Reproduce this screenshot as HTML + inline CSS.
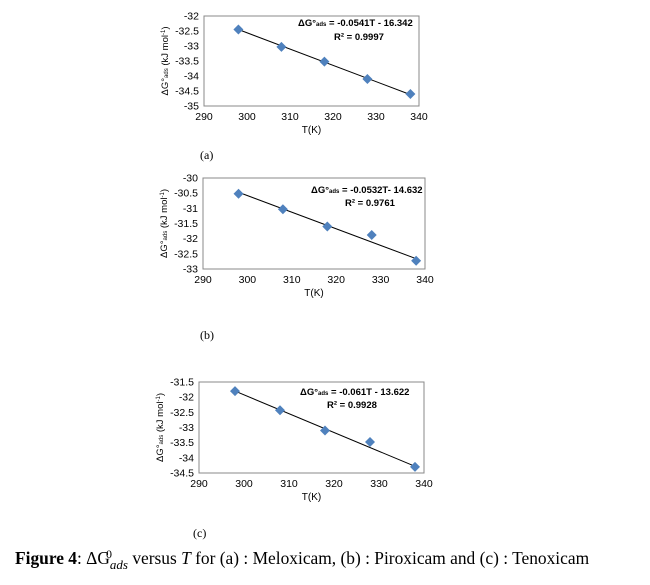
<!DOCTYPE html>
<html><head><meta charset="utf-8"><style>
body{margin:0;background:#fff;width:650px;height:585px;overflow:hidden}
svg{position:absolute;left:0;top:0}
text{font-family:"Liberation Sans",sans-serif;fill:#000}
</style></head><body>
<svg id="s" width="650" height="585" xmlns="http://www.w3.org/2000/svg">
<text x="15" y="564" style="font-family:'Liberation Serif',serif;font-size:17.4px"><tspan font-weight="bold">Figure 4</tspan>: ΔG<tspan font-style="italic" dy="5" font-size="13">ads</tspan><tspan dx="-22" dy="-11" font-size="12">0</tspan><tspan dy="6" dx="16"> versus </tspan><tspan font-style="italic">T</tspan> for (a) : Meloxicam, (b) : Piroxicam and (c) : Tenoxicam</text>
</svg>
<script>
const s=document.getElementById('s');let h='';
function chart(c){
 const {L,R,T,B,y0,y1,pts,l0,l1,eq,r2,lab}=c;
 const X=v=>L+(v-290)/50*(R-L), Y=v=>T+(y0-v)/(y0-y1)*(B-T);
 h+=`<rect x="${L}" y="${T}" width="${R-L}" height="${B-T}" fill="none" stroke="#888" stroke-width="1"/>`;
 for(let v=y0;v>=y1-1e-9;v-=0.5){h+=`<text x="${L-5}" y="${Y(v)+3.5}" font-size="10.5" text-anchor="end">${+v.toFixed(1)}</text>`;}
 for(let v=290;v<=340;v+=10){h+=`<text x="${X(v)}" y="${B+14}" font-size="10.5" text-anchor="middle">${v}</text>`;}
 h+=`<text x="${(L+R)/2}" y="${B+27}" font-size="10" text-anchor="middle">T(K)</text>`;
 h+=`<text transform="translate(${L-36},${(T+B)/2}) rotate(-90)" font-size="9.5" text-anchor="middle">ΔG°<tspan font-size="6">ads</tspan> (kJ mol<tspan font-size="6" dy="-3">-1</tspan><tspan dy="3">)</tspan></text>`;
 h+=`<line x1="${X(298)}" y1="${Y(l0)}" x2="${X(338)}" y2="${Y(l1)}" stroke="#000" stroke-width="1"/>`;
 [298,308,318,328,338].forEach((t,i)=>{const x=X(t),y=Y(pts[i]);h+=`<path d="M${x} ${y-5}L${x+5} ${y}L${x} ${y+5}L${x-5} ${y}Z" fill="#4f81bd"/>`;});
 h+=`<text x="${eq[0]}" y="${eq[1]}" font-size="9.5" font-weight="bold">ΔG°<tspan font-size="6">ads</tspan> = ${eq[2]}</text>`;
 h+=`<text x="${r2[0]}" y="${r2[1]}" font-size="9.5" font-weight="bold">R² = ${r2[2]}</text>`;
 h+=`<text x="${lab[0]}" y="${lab[1]}" font-size="12" style="font-family:'Liberation Serif',serif">${lab[2]}</text>`;
}
chart({L:204,R:419,T:16,B:106,y0:-32,y1:-35,pts:[-32.45,-33.03,-33.52,-34.1,-34.6],l0:-32.45,l1:-34.62,eq:[298,26,'-0.0541T - 16.342'],r2:[334,40,'0.9997'],lab:[200,159,'(a)']});
chart({L:203,R:425,T:178,B:269,y0:-30,y1:-33,pts:[-30.52,-31.03,-31.6,-31.88,-32.73],l0:-30.47,l1:-32.66,eq:[311,193,'-0.0532T- 14.632'],r2:[345,206,'0.9761'],lab:[200,339,'(b)']});
chart({L:199,R:424,T:382,B:473,y0:-31.5,y1:-34.5,pts:[-31.8,-32.43,-33.1,-33.48,-34.3],l0:-31.8,l1:-34.28,eq:[300,395,'-0.061T - 13.622'],r2:[327,408,'0.9928'],lab:[193,537,'(c)']});
s.insertAdjacentHTML('beforeend',h);
</script>
</body></html>
